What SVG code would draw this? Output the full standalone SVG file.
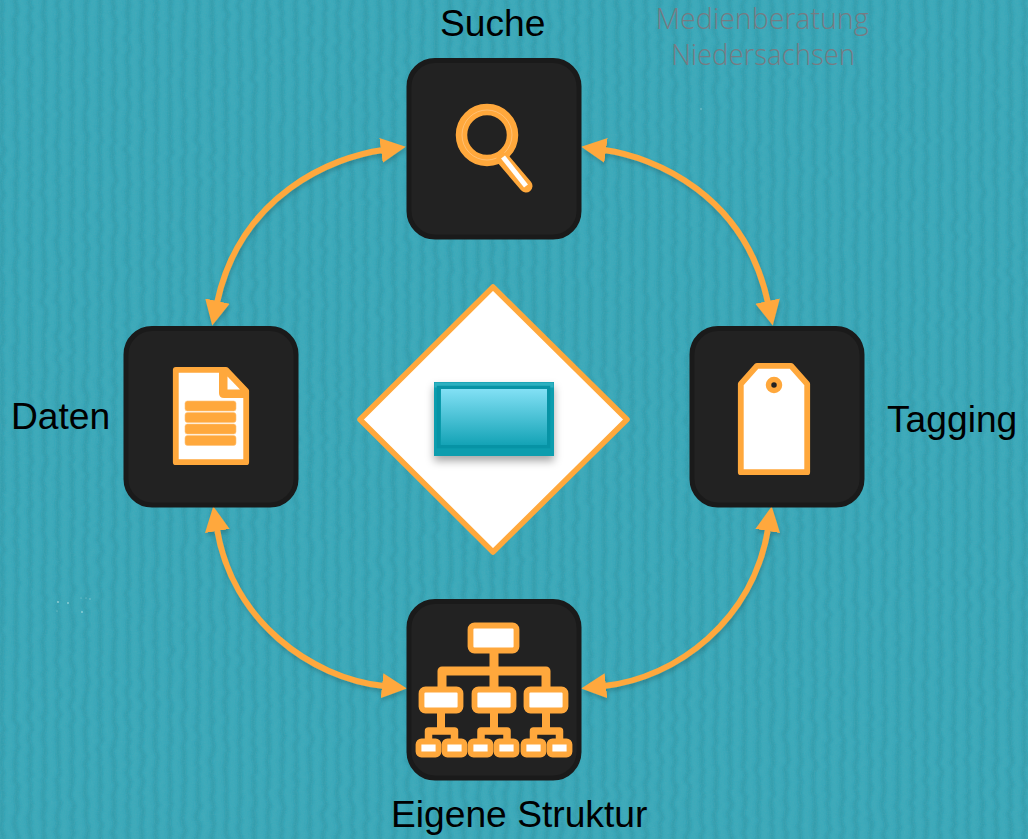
<svg xmlns="http://www.w3.org/2000/svg" width="1028" height="839" viewBox="0 0 1028 839">
<style>
.box{fill:#222;stroke:#1a1a1a;stroke-width:5}
.lab{font-family:"Liberation Sans",Arial,sans-serif;font-size:37.2px;fill:#000}
.wm{font-family:"Open Sans","Noto Sans",sans-serif;font-weight:300;font-size:28.5px;fill:#777b82;text-anchor:middle}
.con{fill:none;stroke:#ffa83c;stroke-width:6;marker-start:url(#ah);marker-end:url(#ah);filter:url(#ls)}
.o{fill:#fff;stroke:#ffa83c;stroke-width:5.8;stroke-linejoin:round}
.ln{fill:none;stroke:#ffa83c;stroke-linejoin:round}
.bar{fill:#ffa83c;stroke:#ffc27a;stroke-width:.6}
</style>
<defs>
<marker id="ah" markerUnits="userSpaceOnUse" markerWidth="26" markerHeight="26" refX="2" refY="13" orient="auto-start-reverse" viewBox="0 0 26 26"><path d="M0 0.500L25 13L0 25.500Z" fill="#ffa83c"/></marker>
<pattern id="stripes" patternUnits="userSpaceOnUse" width="14" height="20"><rect x="0" width="4" height="20" fill="#1a7f8f" opacity=".28"/><rect x="7" width="3" height="20" fill="#5fc0cc" opacity=".12"/></pattern>
<filter id="wob" x="0" y="0" width="100%" height="100%"><feTurbulence type="fractalNoise" baseFrequency="0.03 0.09" numOctaves="2" seed="7" result="n"/><feDisplacementMap in="SourceGraphic" in2="n" scale="7" xChannelSelector="R" yChannelSelector="G"/><feGaussianBlur stdDeviation="1"/></filter>
<filter id="fine" x="0" y="0" width="100%" height="100%"><feTurbulence type="fractalNoise" baseFrequency="0.7" numOctaves="2" seed="3"/><feColorMatrix values="0 0 0 0 0.1  0 0 0 0 0.4  0 0 0 0 0.48  0.7 0 0 0 -0.22"/></filter>
<filter id="ls" x="-30%" y="-30%" width="160%" height="160%"><feDropShadow dx="1" dy="3" stdDeviation="2" flood-color="#000" flood-opacity=".18"/></filter>
<filter id="ss" x="-10%" y="-10%" width="120%" height="140%"><feDropShadow dx="0" dy="5" stdDeviation="4" flood-color="#000" flood-opacity=".35"/></filter>
<linearGradient id="scr" x1="0" y1="0" x2="0" y2="1"><stop offset="0" stop-color="#82e0f5"/><stop offset="1" stop-color="#14a3b6"/></linearGradient>
</defs>
<rect id="background" width="1028" height="839" fill="#3aa8b9"/>
<rect x="-10" y="-10" width="1048" height="859" fill="url(#stripes)" filter="url(#wob)"/>
<rect width="1028" height="839" filter="url(#fine)" opacity=".7"/>
<g fill="#a5d8dc" opacity=".75"><circle cx="701" cy="109" r=".8"/><circle cx="58" cy="602" r="1.100"/><circle cx="68" cy="603" r="1"/><circle cx="81" cy="598" r=".6"/><circle cx="86" cy="598" r=".6"/><circle cx="90" cy="599" r=".7"/><circle cx="82" cy="612" r="1"/><circle cx="57" cy="611" r=".6"/></g>

<g id="connectors">
<path class="con" d="M383 150C332 157 240 195 217 303"/>
<path class="con" d="M604 150C655 157 745 195 768 303"/>
<path class="con" d="M217 529C232 620 310 678 384 686"/>
<path class="con" d="M768 529C753 620 677 678 604 686"/>
</g>

<g id="node-center">
<path d="M493 287L627 419.500L493 552L360 419.500Z" fill="#fff" stroke="#ffa83c" stroke-width="5.500" stroke-linejoin="round"/>
<rect x="434" y="382" width="120" height="74" fill="#0b9dae" filter="url(#ss)"/>
<rect x="434.500" y="382.500" width="119" height="5" fill="#2cb0c0"/>
<rect x="438.500" y="387.500" width="110" height="59" fill="none" stroke="#0793a5" stroke-width="3.500"/>
<rect x="441" y="389" width="106" height="56" fill="url(#scr)"/>
</g>

<g id="node-suche">
<rect class="box" x="409" y="60.500" width="170" height="176.500" rx="26"/>
<circle cx="487" cy="135" r="25.500" fill="none" stroke="#ffa83c" stroke-width="11.500"/>
<circle cx="487" cy="135" r="25" fill="none" stroke="#ffcf95" stroke-width=".6"/>
<path d="M503 159L526 186" fill="none" stroke="#ffa83c" stroke-width="13" stroke-linecap="round"/>
<path d="M503 157L526 186" fill="none" stroke="#fff" stroke-width="5"/>
<text class="lab" x="440" y="36">Suche</text>
</g>

<g id="node-daten">
<rect class="box" x="126" y="328.500" width="170" height="176.500" rx="26"/>
<path class="o" d="M175.800 369.800H226L246.200 391V462.200H175.800Z"/>
<path d="M219 368H226L249 391V398H224Q219 398 219 393Z" fill="#ffa83c"/>
<path d="M227.500 376.500L240 389.500H227.500Z" fill="#fff"/>
<rect class="bar" x="185" y="401" width="51" height="10" rx="2.500"/>
<rect class="bar" x="185" y="412.500" width="51" height="10" rx="2.500"/>
<rect class="bar" x="185" y="424" width="51" height="10" rx="2.500"/>
<rect class="bar" x="185" y="435.500" width="51" height="10" rx="2.500"/>
<text class="lab" x="11" y="429">Daten</text>
</g>

<g id="node-tagging">
<rect class="box" x="692" y="328.500" width="170" height="176.500" rx="26"/>
<path class="o" d="M740.800 384L757 365.800H791L807.200 384V472.200H740.800Z"/>
<circle cx="774" cy="385" r="5.500" fill="#222" stroke="#ffa83c" stroke-width="5.500"/>
<text class="lab" x="887" y="432">Tagging</text>
</g>

<g id="node-struktur">
<rect class="box" x="409" y="601.500" width="170" height="176.500" rx="26"/>
<path class="ln" stroke-width="9" d="M494 653V687M442 687V671H546V687"/>
<path class="ln" stroke-width="8" d="M441 713V731M494 713V731M546 713V731"/>
<path class="ln" stroke-width="7.500" d="M428.500 740V731H454.500V740M481 740V731H507V740M533.500 740V731H559.500V740"/>
<rect class="o" x="470.500" y="625.500" width="46" height="25" rx="4"/>
<rect class="o" x="421.500" y="689.500" width="39" height="21" rx="4"/>
<rect class="o" x="474.500" y="689.500" width="39" height="21" rx="4"/>
<rect class="o" x="526.500" y="689.500" width="39" height="21" rx="4"/>
<rect class="o" x="418.500" y="741.500" width="20" height="13" rx="3"/>
<rect class="o" x="444.500" y="741.500" width="20" height="13" rx="3"/>
<rect class="o" x="470.500" y="741.500" width="20" height="13" rx="3"/>
<rect class="o" x="496.500" y="741.500" width="20" height="13" rx="3"/>
<rect class="o" x="523.500" y="741.500" width="20" height="13" rx="3"/>
<rect class="o" x="549.500" y="741.500" width="20" height="13" rx="3"/>
<text class="lab" x="391" y="827">Eigene Struktur</text>
</g>

<g id="watermark">
<text class="wm" x="762" y="29">Medienberatung</text>
<text class="wm" x="763" y="65" textLength="184" lengthAdjust="spacingAndGlyphs">Niedersachsen</text>
</g>
</svg>
